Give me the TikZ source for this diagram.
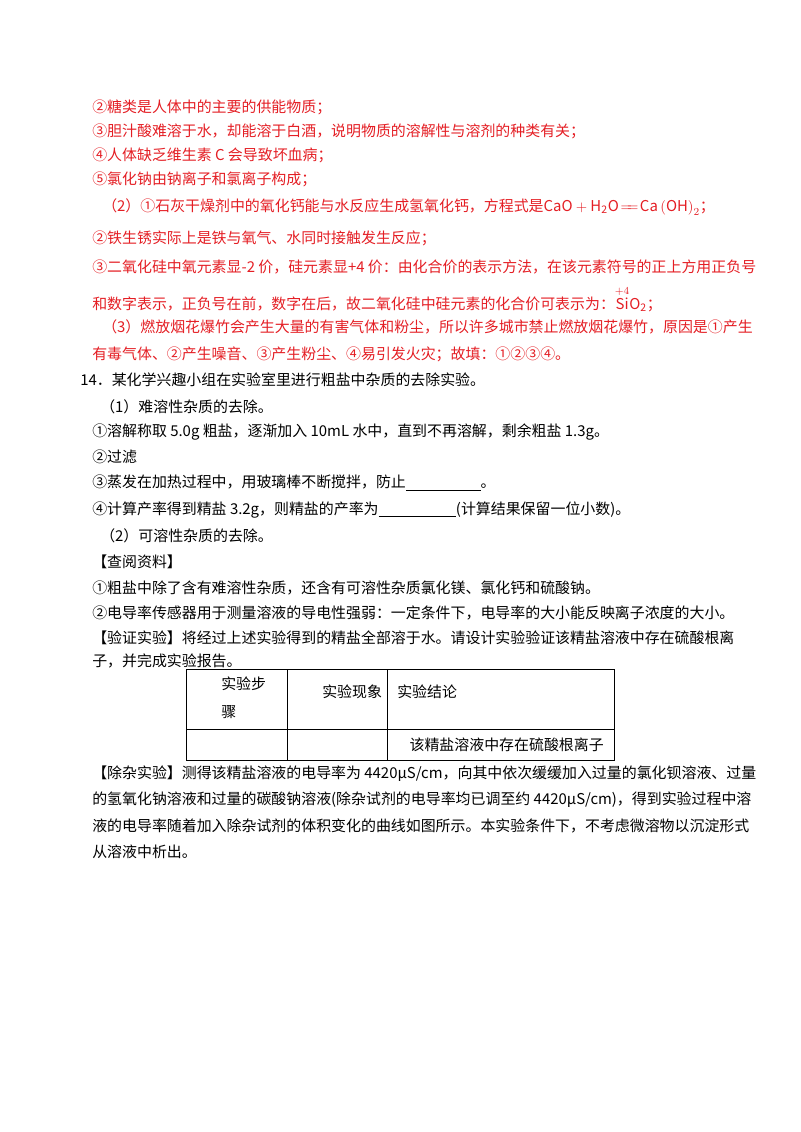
\documentclass[tikz,border=0pt]{standalone}
\usepackage{amsmath}
\usepackage{fontspec}
\setmainfont{Noto Sans CJK SC}
\definecolor{ansred}{RGB}{228,30,36}
\newcommand{\blank}[1]{\underline{\hspace{#1}}}
\begin{document}
\begin{tikzpicture}[x=0.75pt,y=-0.75pt]
        \tikzset{every node/.style={inner sep=0pt,anchor=west,font=\fontsize{11.2}{13}\selectfont},
                 ans/.style={text=ansred}}
        \useasboundingbox (0,0) rectangle (800,1132);
        % answer part (red)
        \draw (92,107) node[ans] {②糖类是人体中的主要的供能物质；};
        \draw (92,131) node[ans] {③胆汁酸难溶于水，却能溶于白酒，说明物质的溶解性与溶剂的种类有关；};
        \draw (92,155) node[ans] {④人体缺乏维生素 C 会导致坏血病；};
        \draw (92,179) node[ans] {⑤氯化钠由钠离子和氯离子构成；};
        \draw (102,207) node[ans] {（2）①石灰干燥剂中的氧化钙能与水反应生成氢氧化钙，方程式是$\mathit{CaO}+\mathrm{H_2O}\!=\!\!=\!\mathit{Ca}\left(\mathit{OH}\right)_2$；};
        \draw (92,238) node[ans] {②铁生锈实际上是铁与氧气、水同时接触发生反应；};
        \draw (92,267) node[ans] {③二氧化硅中氧元素显-2 价，硅元素显+4 价：由化合价的表示方法，在该元素符号的正上方用正负号};
        \draw (92,299) node[ans] {和数字表示，正负号在前，数字在后，故二氧化硅中硅元素的化合价可表示为：$\overset{+4}{\mathit{Si}}\mathrm{O_2}$；};
        \draw (102,327) node[ans] {（3）燃放烟花爆竹会产生大量的有害气体和粉尘，所以许多城市禁止燃放烟花爆竹，原因是①产生};
        \draw (92,354) node[ans] {有毒气体、②产生噪音、③产生粉尘、④易引发火灾；故填：①②③④。};
        % question 14
        \draw (80,380) node {14．某化学兴趣小组在实验室里进行粗盐中杂质的去除实验。};
        \draw (100,407) node {（1）难溶性杂质的去除。};
        \draw (92,432) node {①溶解称取 5.0g 粗盐，逐渐加入 10mL 水中，直到不再溶解，剩余粗盐 1.3g。};
        \draw (92,457) node {②过滤};
        \draw (92,483) node {③蒸发在加热过程中，用玻璃棒不断搅拌，防止\blank{56pt}。};
        \draw (92,510) node {④计算产率得到精盐 3.2g，则精盐的产率为\blank{58pt}(计算结果保留一位小数)。};
        \draw (100,536) node {（2）可溶性杂质的去除。};
        \draw (92,562) node {【查阅资料】};
        \draw (92,588) node {①粗盐中除了含有难溶性杂质，还含有可溶性杂质氯化镁、氯化钙和硫酸钠。};
        \draw (92,613) node {②电导率传感器用于测量溶液的导电性强弱：一定条件下，电导率的大小能反映离子浓度的大小。};
        \draw (92,638) node {【验证实验】将经过上述实验得到的精盐全部溶于水。请设计实验验证该精盐溶液中存在硫酸根离};
        \draw (92,661) node {子，并完成实验报告。};
        % table
        \draw (186,669) rectangle (614,760);
        \draw (186,729) -- (614,729);
        \draw (287,669) -- (287,760);
        \draw (387,669) -- (387,760);
        \draw (221,684) node {实验步};
        \draw (221,712) node {骤};
        \draw (322,692) node {实验现象};
        \draw (397,692) node {实验结论};
        \draw (604,745) node[anchor=east] {该精盐溶液中存在硫酸根离子};
        \draw (92,774) node {【除杂实验】测得该精盐溶液的电导率为 4420μS/cm，向其中依次缓缓加入过量的氯化钡溶液、过量};
        \draw (92,800) node {的氢氧化钠溶液和过量的碳酸钠溶液(除杂试剂的电导率均已调至约 4420μS/cm)，得到实验过程中溶};
        \draw (92,826) node {液的电导率随着加入除杂试剂的体积变化的曲线如图所示。本实验条件下，不考虑微溶物以沉淀形式};
        \draw (92,852) node {从溶液中析出。};
\end{tikzpicture}
\end{document}
